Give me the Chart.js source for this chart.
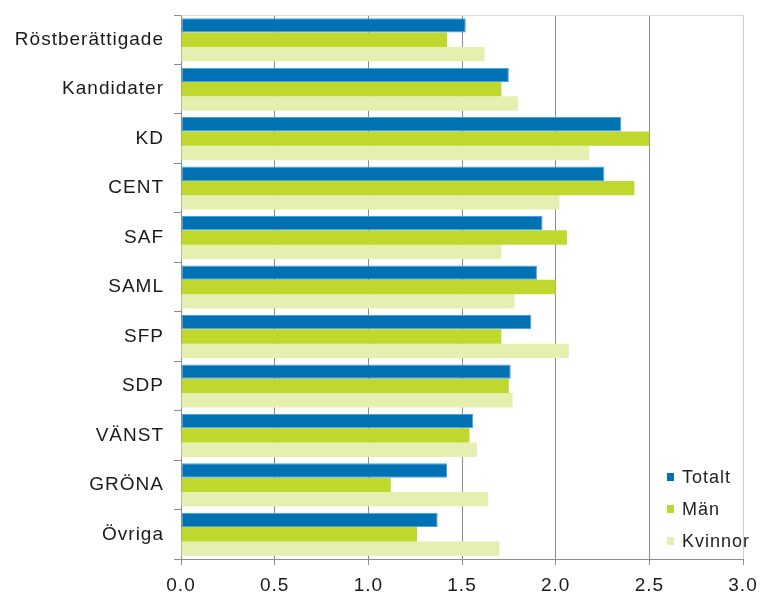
<!DOCTYPE html>
<html>
<head>
<meta charset="utf-8">
<script src="https://cdn.jsdelivr.net/npm/chart.js@4"></script>
<style>
    html, body { margin: 0; padding: 0; background: #fff; }
    #wrap { width: 760px; height: 594px; }
</style>
</head>
<body>
<div id="wrap"><canvas id="chart"></canvas></div>
<script>
// ─── DATA ─────────────────────────────────────────────────────────────────────
const categories = ['Röstberättigade', 'Kandidater', 'KD', 'CENT', 'SAF', 'SAML', 'SFP', 'SDP', 'VÄNST', 'GRÖNA', 'Övriga'];
const totalt  = [1.52, 1.75, 2.35, 2.26, 1.93, 1.90, 1.87, 1.76, 1.56, 1.42, 1.37];
const man     = [1.42, 1.71, 2.50, 2.42, 2.06, 2.00, 1.71, 1.75, 1.54, 1.12, 1.26];
const kvinnor = [1.62, 1.80, 2.18, 2.02, 1.71, 1.78, 2.07, 1.77, 1.58, 1.64, 1.70];
const xTicks  = [0, 0.5, 1.0, 1.5, 2.0, 2.5, 3.0];

const FONT = '"Liberation Sans", Arial, sans-serif';
const GRID = '#8c8c8c';

// lite luftigare text, som i originalet
const spacingPlugin = {
    id: 'spacing',
    beforeDraw(chart) {
        chart.ctx.letterSpacing = '1px';
    }
};

// ram runt plotytan (topp)
const framePlugin = {
    id: 'frame',
    beforeDatasetsDraw(chart) {
        const { ctx, chartArea: a } = chart;
        ctx.save();
        ctx.strokeStyle = '#d9d9d9';
        ctx.lineWidth = 1;
        ctx.beginPath();
        ctx.moveTo(a.left, a.top + 0.5);
        ctx.lineTo(a.right, a.top + 0.5);
        ctx.stroke();
        ctx.restore();
    }
};

// legend inne i plotytan, nere till höger
const legendPlugin = {
    id: 'innerLegend',
    afterDraw(chart) {
        const { ctx, chartArea: a } = chart;
        const sets = chart.data.datasets;
        ctx.save();
        ctx.font = '18px ' + FONT;
        ctx.textBaseline = 'middle';
        sets.forEach((ds, i) => {
            const y = a.bottom - 82 + i * 32;
            const x = a.right - 76;
            ctx.fillStyle = ds.backgroundColor;
            ctx.fillRect(x, y - 4, 7, 8);
            ctx.fillStyle = '#222';
            ctx.fillText(ds.label, x + 15, y + 1);
        });
        ctx.restore();
    }
};

new Chart(document.getElementById('chart'), {
    type: 'bar',
    data: {
        labels: categories,
        datasets: [
            { label: 'Totalt',  data: totalt,  backgroundColor: '#0071b2', borderColor: '#4aa3d8', borderWidth: 1, borderSkipped: false },
            { label: 'Män',     data: man,     backgroundColor: '#c0d82e' },
            { label: 'Kvinnor', data: kvinnor, backgroundColor: '#e5f0b0' }
        ]
    },
    options: {
        indexAxis: 'y',
        responsive: true,
        maintainAspectRatio: false,
        animation: false,
        categoryPercentage: 0.87,
        barPercentage: 1.0,
        layout: { padding: { top: 15, right: 17, left: 0, bottom: 0 } },
        plugins: {
            legend: { display: false },
            tooltip: { enabled: false }
        },
        scales: {
            x: {
                min: 0,
                max: 3,
                afterBuildTicks: s => { s.ticks = xTicks.map(v => ({ value: v })); },
                afterFit: s => { s.height = 35; s.paddingLeft = 0; s.paddingRight = 0; },
                border: { display: true, color: GRID, width: 1 },
                grid: {
                    color: c => (c.tick && c.tick.value === 3) ? '#cfcfcf' : GRID,
                    tickColor: GRID,
                    tickLength: 6
                },
                ticks: {
                    color: '#1a1a1a',
                    font: { family: FONT, size: 19 },
                    padding: 9,
                    callback: v => Number(v).toFixed(1)
                }
            },
            y: {
                afterFit: s => { s.width = 181; s.paddingTop = 0; s.paddingBottom = 0; },
                border: { display: true, color: GRID, width: 1 },
                grid: {
                    offset: true,
                    drawOnChartArea: false,
                    color: GRID,
                    tickLength: 7
                },
                ticks: {
                    color: '#1a1a1a',
                    font: { family: FONT, size: 19 },
                    padding: 10
                }
            }
        }
    },
    plugins: [spacingPlugin, framePlugin, legendPlugin]
});
</script>
</body>
</html>
